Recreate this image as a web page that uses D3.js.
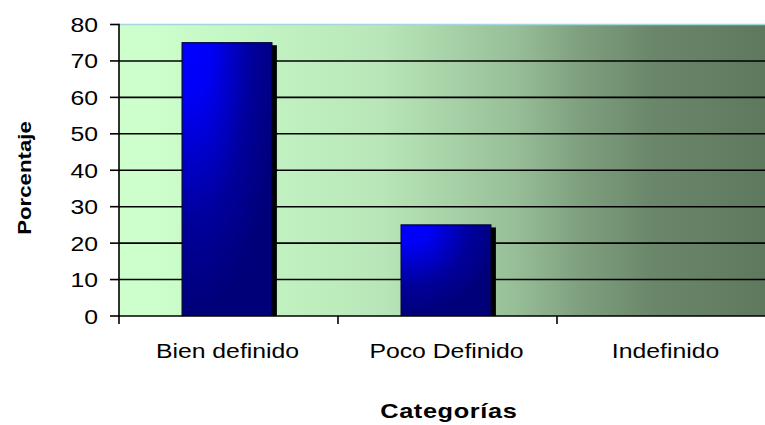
<!DOCTYPE html>
<html>
<head>
<meta charset="utf-8">
<script src="https://cdn.jsdelivr.net/npm/d3@7"></script>
<style>
  html, body { margin: 0; padding: 0; background: #fff; }
  svg { display: block; }
  text { font-family: "Liberation Sans", Arial, sans-serif; fill: #000; }
</style>
</head>
<body>
<svg id="chart" width="765" height="425"></svg>
<script>
// Chart data
const categories = ["Bien definido", "Poco Definido", "Indefinido"];
const values = [75, 25, 0];
const yTicks = [0, 10, 20, 30, 40, 50, 60, 70, 80];
const yTitle = "Porcentaje";
const xTitle = "Categorías";

const W = 765, H = 425;
const plot = { left: 119, right: 776, top: 24.5, bottom: 316 };
const stretch = 1.18; // horizontal widening of the label glyphs

const svg = d3.select("#chart");
const defs = svg.append("defs");

// Plot background: pale green fading to dark sage on the right
const bgGrad = defs.append("linearGradient")
  .attr("id", "bg").attr("x1", 0).attr("x2", 1).attr("y1", 0).attr("y2", 0);
const mix = d3.interpolateRgb("#ccffcc", "#5b745b");
[[0, 0], [0.05, 0.0], [0.4, 0.18], [0.6, 0.46], [0.7, 0.68], [0.81, 0.86], [1, 0.98]]
  .forEach(([o, t]) => bgGrad.append("stop").attr("offset", o).attr("stop-color", mix(t)));

// Bar fill: bright blue at the top-left, deepening to navy
const barGrad = defs.append("radialGradient")
  .attr("id", "barFill").attr("cx", 0.12).attr("cy", 0).attr("r", 1).attr("fx", 0.12).attr("fy", 0);
[[0, "#0000ff"], [0.2, "#0000f6"], [0.65, "#00009c"], [1, "#000078"]]
  .forEach(([o, c]) => barGrad.append("stop").attr("offset", o).attr("stop-color", c));

defs.append("clipPath").attr("id", "plotClip")
  .append("rect").attr("x", plot.left).attr("y", plot.top - 2)
  .attr("width", plot.right - plot.left).attr("height", plot.bottom - plot.top + 2);

const x = d3.scaleBand().domain(categories).range([plot.left, plot.right]).padding(0);
const y = d3.scaleLinear().domain([0, 80]).range([plot.bottom, plot.top]);

// Background
svg.append("rect")
  .attr("x", plot.left).attr("y", plot.top)
  .attr("width", plot.right - plot.left).attr("height", plot.bottom - plot.top)
  .attr("fill", "url(#bg)");

// Horizontal gridlines
svg.append("g").selectAll("line")
  .data(yTicks.filter(d => d > 0 && d < 80))
  .join("line")
  .attr("x1", plot.left).attr("x2", plot.right)
  .attr("y1", d => y(d)).attr("y2", d => y(d))
  .attr("stroke", "#000").attr("stroke-width", 1.6);

// Top border of the plot
svg.append("line")
  .attr("x1", plot.left).attr("x2", plot.right)
  .attr("y1", y(80)).attr("y2", y(80))
  .attr("stroke", "#a3d6dd").attr("stroke-width", 1.6);

// Bars with drop shadows
const barW = x.bandwidth() * 0.41;
const barX = d => x(d) + (x.bandwidth() - barW) / 2 - 1.5;
const bars = svg.append("g").attr("clip-path", "url(#plotClip)");
const data = categories.map((c, i) => ({ c, v: values[i] })).filter(d => d.v > 0);

bars.selectAll("rect.shadow")
  .data(data).join("rect").attr("class", "shadow")
  .attr("x", d => barX(d.c) + 5).attr("y", d => y(d.v) + 2.5)
  .attr("width", barW).attr("height", d => y(0) - y(d.v))
  .attr("fill", "#000");

bars.selectAll("rect.bar")
  .data(data).join("rect").attr("class", "bar")
  .attr("x", d => barX(d.c)).attr("y", d => y(d.v))
  .attr("width", barW).attr("height", d => y(0) - y(d.v))
  .attr("fill", "url(#barFill)")
  .attr("stroke", "#00003a").attr("stroke-width", 1.2);

// Y axis
const yAxis = svg.append("g");
yAxis.append("line")
  .attr("x1", plot.left).attr("x2", plot.left)
  .attr("y1", plot.top - 0.8).attr("y2", plot.bottom)
  .attr("stroke", "#000").attr("stroke-width", 1.6);
yAxis.selectAll("line.tick")
  .data(yTicks).join("line").attr("class", "tick")
  .attr("x1", plot.left - 9).attr("x2", plot.left)
  .attr("y1", d => y(d)).attr("y2", d => y(d))
  .attr("stroke", "#000").attr("stroke-width", 1.6);
yAxis.selectAll("text")
  .data(yTicks).join("text")
  .attr("transform", d => `translate(98,${y(d) + 7.5}) scale(${stretch},1)`)
  .attr("text-anchor", "end")
  .attr("font-size", 21)
  .text(d => d);

// X axis
const xAxis = svg.append("g");
xAxis.append("line")
  .attr("x1", plot.left - 0.8).attr("x2", plot.right)
  .attr("y1", plot.bottom).attr("y2", plot.bottom)
  .attr("stroke", "#000").attr("stroke-width", 1.6);
const bounds = categories.map(c => x(c)).concat([plot.right]);
xAxis.selectAll("line.tick")
  .data(bounds).join("line").attr("class", "tick")
  .attr("x1", d => d).attr("x2", d => d)
  .attr("y1", plot.bottom).attr("y2", plot.bottom + 8)
  .attr("stroke", "#000").attr("stroke-width", 1.6);
xAxis.selectAll("text")
  .data(categories).join("text")
  .attr("transform", d => `translate(${x(d) + x.bandwidth() / 2 - 1},358) scale(${stretch},1)`)
  .attr("text-anchor", "middle")
  .attr("font-size", 21)
  .text(d => d);

// Axis titles
svg.append("text")
  .attr("transform", `translate(30.5,178) rotate(-90) scale(1.17,1)`)
  .attr("text-anchor", "middle")
  .attr("font-size", 19).attr("font-weight", "bold")
  .text(yTitle);

svg.append("text")
  .attr("transform", `translate(448.5,418) scale(1.3,1)`)
  .attr("text-anchor", "middle")
  .attr("font-size", 19.5).attr("font-weight", "bold")
  .attr("textLength", 105).attr("lengthAdjust", "spacing")
  .text(xTitle);
</script>
</body>
</html>
